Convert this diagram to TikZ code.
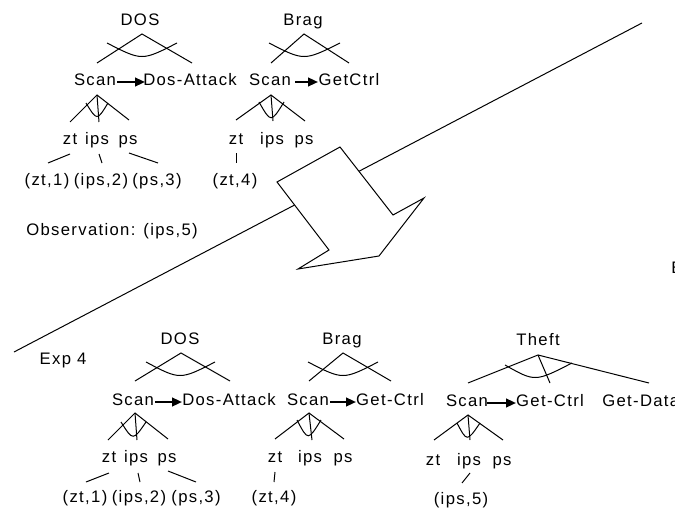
\documentclass[tikz,border=0pt]{standalone}
\usepackage{fontspec}
\setmainfont{Liberation Sans}[LetterSpace=8]
\usetikzlibrary{arrows.meta}
\begin{document}
\begin{tikzpicture}[x=0.75pt,y=-0.75pt,
  lbl/.style={inner sep=0pt, anchor=base, font=\fontsize{12.5}{15}\selectfont},
  ln/.style={line width=0.75pt},
  bigarr/.style={line width=1.6pt, -{Triangle[length=7.5pt,width=6.5pt]}},
  bigshape/.style={line width=0.75pt, fill=white, line join=miter}]
\clip (0,0) rectangle (675,510);
\fill[white] (0,0) rectangle (675,510);
% ---------- big separator line and arrow ----------
\coordinate (sepA) at (14,352);
\coordinate (sepB) at (642,23);
\draw[ln] (sepA) -- (sepB);
\draw[bigshape] (277,182) -- (340,147) -- (393,215) -- (424,198) -- (379,256) -- (298,269) -- (329,250) -- cycle;
% ---------- top half ----------
\node[lbl] (dos1) at (140,26) {DOS};
\node[lbl] (brag1) at (303,26) {Brag};
\node[lbl] (scan1) at (95,86) {Scan};
\node[lbl] (atk1) at (190,86) {Dos-Attack};
\node[lbl] (scan2) at (270,86) {Scan};
\node[lbl] (ctrl2) at (349,86) {GetCtrl};
\node[lbl] (zt1) at (70,144) {zt};
\node[lbl] (ips1) at (97,144) {ips};
\node[lbl] (ps1) at (128,144) {ps};
\node[lbl] (zt2) at (236,144) {zt};
\node[lbl] (ips2) at (272,144) {ips};
\node[lbl] (ps2) at (304,144) {ps};
\node[lbl] (o1) at (47,185) {(zt,1)};
\node[lbl] (o2) at (101,185) {(ips,2)};
\node[lbl] (o3) at (157,185) {(ps,3)};
\node[lbl] (o4) at (235,185) {(zt,4)};
\node[lbl] (obs) at (112,235) {Observation: (ips,5)};
\node[lbl, anchor=base west] (e) at (671,273) {E};
% DOS tree
\coordinate (dosA) at (142,34);
\coordinate (dosL) at (97,63);
\coordinate (dosR) at (192,63);
\draw[ln] (dosL) -- (dosA) -- (dosR);
\draw[ln] (107,43) .. controls (142,61) .. (177,43);
% Brag tree
\coordinate (bragA) at (304,34);
\coordinate (bragL) at (271,63);
\coordinate (bragR) at (349,63);
\draw[ln] (bragL) -- (bragA) -- (bragR);
\draw[ln] (269,43) .. controls (304,61) .. (340,43);
% Scan1 branch
\coordinate (s1A) at (97,95);
\coordinate (s1L) at (70,122);
\coordinate (s1M) at (99,122);
\coordinate (s1R) at (129,120);
\draw[ln] (s1L) -- (s1A) -- (s1R);
\draw[ln] (s1A) -- (s1M);
\draw[ln] (86,103) .. controls (97,121) .. (108,103);
% Scan2 branch
\coordinate (s2A) at (271,95);
\coordinate (s2L) at (236,120);
\coordinate (s2M) at (273,121);
\coordinate (s2R) at (305,121);
\draw[ln] (s2L) -- (s2A) -- (s2R);
\draw[ln] (s2A) -- (s2M);
\draw[ln] (259,102) .. controls (271,123) .. (284,102);
% leaves
\draw[ln] (70,154) -- (48,163);
\draw[ln] (99,154) -- (102,163);
\draw[ln] (129,153) -- (158,163);
\draw[ln] (236,153) -- (236,163);
% arrows
\draw[bigarr] (117,82) -- (145,82);
\draw[bigarr] (295,82) -- (318,82);
% ---------- bottom half ----------
\node[lbl] (exp4) at (63,364) {Exp 4};
\node[lbl] (dos3) at (180,344) {DOS};
\node[lbl] (brag3) at (342,344) {Brag};
\node[lbl] (theft) at (538,345) {Theft};
\node[lbl] (scan3) at (133,405) {Scan};
\node[lbl] (atk3) at (229,405) {Dos-Attack};
\node[lbl] (scan4) at (308,405) {Scan};
\node[lbl] (ctrl4) at (390,405) {Get-Ctrl};
\node[lbl] (scan5) at (467,406) {Scan};
\node[lbl] (ctrl5) at (550,406) {Get-Ctrl};
\node[lbl, anchor=base west] (data5) at (602,406) {Get-Data};
\node[lbl] (zt3) at (109,462) {zt};
\node[lbl] (ips3) at (136,462) {ips};
\node[lbl] (ps3) at (167,462) {ps};
\node[lbl] (zt4) at (275,462) {zt};
\node[lbl] (ips4) at (310,462) {ips};
\node[lbl] (ps4) at (343,462) {ps};
\node[lbl] (zt5) at (433,465) {zt};
\node[lbl] (ips5) at (469,465) {ips};
\node[lbl] (ps5) at (502,465) {ps};
\node[lbl] (p1) at (85,502) {(zt,1)};
\node[lbl] (p2) at (139,502) {(ips,2)};
\node[lbl] (p3) at (196,502) {(ps,3)};
\node[lbl] (p4) at (274,502) {(zt,4)};
\node[lbl] (p5) at (461,504) {(ips,5)};
% DOS tree
\draw[ln] (135,381) -- (181,353) -- (230,381);
\draw[ln] (146,362) .. controls (180,380) .. (215,362);
% Brag tree
\draw[ln] (309,381) -- (343,353) -- (391,381);
\draw[ln] (308,362) .. controls (343,380) .. (378,362);
% Theft tree
\coordinate (thA) at (538,355);
\draw[ln] (468,383) -- (thA) -- (649,383);
\draw[ln] (thA) -- (550,383);
\draw[ln] (505,365) .. controls (535,382) .. (572,363);
% scan branches
\draw[ln] (108,440) -- (135,413) -- (168,439);
\draw[ln] (135,413) -- (137,440);
\draw[ln] (121,422) .. controls (133,441) .. (146,422);
\draw[ln] (275,439) -- (309,413) -- (344,439);
\draw[ln] (309,413) -- (312,440);
\draw[ln] (297,420) .. controls (308,441) .. (321,420);
\draw[ln] (434,440) -- (468,415) -- (503,440);
\draw[ln] (468,415) -- (470,440);
\draw[ln] (457,423) .. controls (467,442) .. (480,423);
% leaves
\draw[ln] (109,473) -- (86,482);
\draw[ln] (138,473) -- (140,482);
\draw[ln] (168,471) -- (196,482);
\draw[ln] (275,472) -- (274,482);
\draw[ln] (470,473) -- (462,483);
% arrows
\draw[bigarr] (155,402) -- (182,402);
\draw[bigarr] (330,402) -- (356,402);
\draw[bigarr] (487,403) -- (516,403);
\end{tikzpicture}
\end{document}
